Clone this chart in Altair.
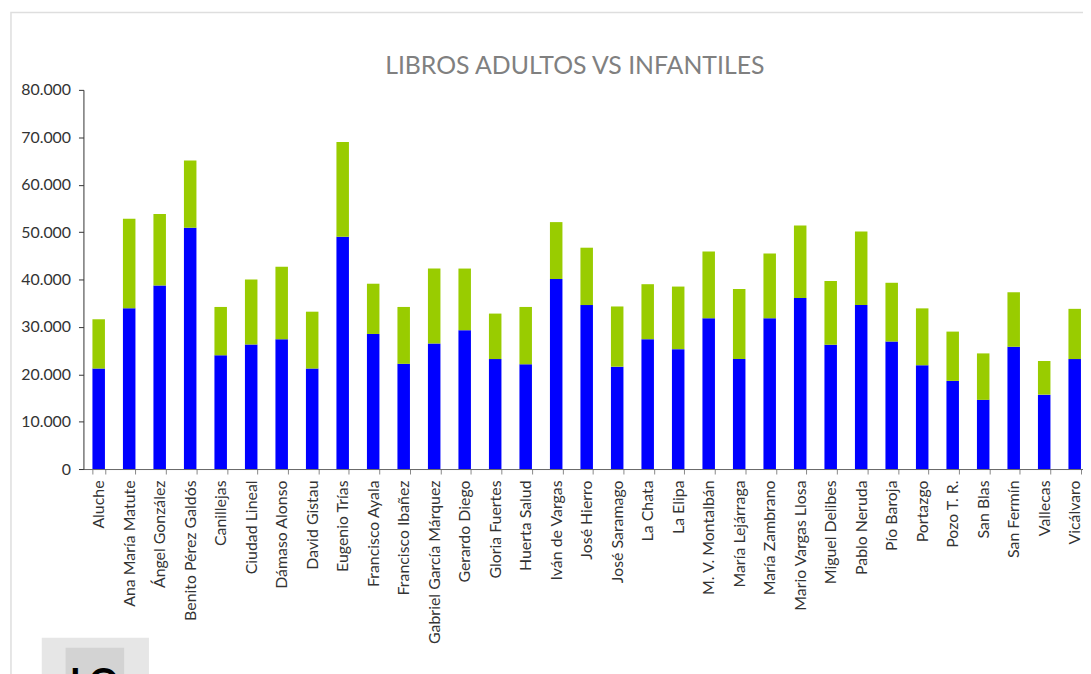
import altair as alt
import pandas as pd

bibliotecas = [
    "Aluche", "Ana María Matute", "Ángel González", "Benito Pérez Galdós",
    "Canillejas", "Ciudad Lineal", "Dámaso Alonso", "David Gistau",
    "Eugenio Trías", "Francisco Ayala", "Francisco Ibañez",
    "Gabriel García Márquez", "Gerardo Diego", "Gloria Fuertes",
    "Huerta Salud", "Iván de Vargas", "José Hierro", "José Saramago",
    "La Chata", "La Elipa", "M. V. Montalbán", "María Lejárraga",
    "María Zambrano", "Mario Vargas Llosa", "Miguel Delibes",
    "Pablo Neruda", "Pío Baroja", "Portazgo", "Pozo T. R.", "San Blas",
    "San Fermín", "Vallecas", "Vicálvaro",
]
adultos = [
    21200, 33900, 38700, 50900, 24000, 26300, 27400, 21200, 49000, 28500,
    22200, 26500, 29300, 23200, 22100, 40100, 34600, 21600, 27400, 25300,
    31800, 23200, 31800, 36100, 26200, 34600, 26900, 21900, 18600, 14600,
    25800, 15700, 23200,
]
infantiles = [
    10400, 18900, 15100, 14200, 10200, 13700, 15300, 12000, 20000, 10600,
    12000, 15800, 13000, 9600, 12100, 12000, 12100, 12700, 11600, 13200,
    14100, 14800, 13700, 15300, 13500, 15500, 12400, 12000, 10400, 9800,
    11500, 7100, 10600,
]
series = ["Adultos", "Infantiles"]
colores = ["#0000FF", "#99CC00"]
y_ticks = [0, 10000, 20000, 30000, 40000, 50000, 60000, 70000, 80000]
titulo = "LIBROS ADULTOS VS INFANTILES"

rows = []
for b, a, i in zip(bibliotecas, adultos, infantiles):
    rows.append({"biblioteca": b, "serie": "Adultos", "orden": 0, "libros": a})
    rows.append({"biblioteca": b, "serie": "Infantiles", "orden": 1, "libros": i})
df = pd.DataFrame(rows)

W = 1007
H = 382

bars = alt.Chart(df).mark_bar().encode(
    x=alt.X(
        "biblioteca:N",
        sort=bibliotecas,
        scale=alt.Scale(range=[0, 1014], paddingInner=0.59, paddingOuter=0.295),
        axis=alt.Axis(
            title=None, labelAngle=-90, tickBand="extent", tickSize=5,
            labelPadding=6, labelFont="Lato", labelFontSize=16,
            labelColor="#333333", domainColor="#666666", tickColor="#888888",
            labelOverlap=False, labelLimit=300,
        ),
    ),
    y=alt.Y(
        "libros:Q",
        stack="zero",
        scale=alt.Scale(domain=[0, 80000], nice=False),
        axis=alt.Axis(
            title=None, values=y_ticks, grid=False,
            labelExpr="replace(format(datum.value, ','), ',', '.')",
            tickSize=5, labelPadding=8, labelFont="Lato", labelFontSize=16,
            labelColor="#333333", domainColor="#333333", tickColor="#333333",
        ),
    ),
    color=alt.Color("serie:N", scale=alt.Scale(domain=series, range=colores), legend=None),
    order=alt.Order("orden:Q", sort="ascending"),
)

one = alt.Data(values=[{"k": 1}])

title_mark = alt.Chart(one).mark_text(
    text=titulo, font="Lato", fontSize=25, color="#808080",
    align="center", baseline="alphabetic",
).encode(x=alt.value(495), y=alt.value(-16))

frame = alt.Chart(one).mark_rect(
    fillOpacity=0, stroke="#dedede", strokeWidth=1.5,
).encode(x=alt.value(-73), x2=alt.value(1100), y=alt.value(-78), y2=alt.value(700))

logo_outer = alt.Chart(one).mark_rect(color="#e6e6e6").encode(
    x=alt.value(-42), x2=alt.value(66), y=alt.value(552), y2=alt.value(600))
logo_inner = alt.Chart(one).mark_rect(color="#d3d3d3").encode(
    x=alt.value(-18), x2=alt.value(41), y=alt.value(562), y2=alt.value(600))
logo_text = alt.Chart(one).mark_text(
    text="LO", font="Lato", fontSize=38, fontWeight="bold", color="#000000",
    align="center", baseline="alphabetic",
).encode(x=alt.value(11), y=alt.value(611))

chart = alt.layer(frame, logo_outer, logo_inner, logo_text, bars, title_mark).properties(
    width=W, height=H,
    autosize=alt.AutoSizeParams(type="none"),
    padding={"left": 76, "top": 80, "right": 0, "bottom": 204},
).configure_view(stroke=None)

chart.save("out.html", embed_options={"renderer": "svg", "actions": False})
